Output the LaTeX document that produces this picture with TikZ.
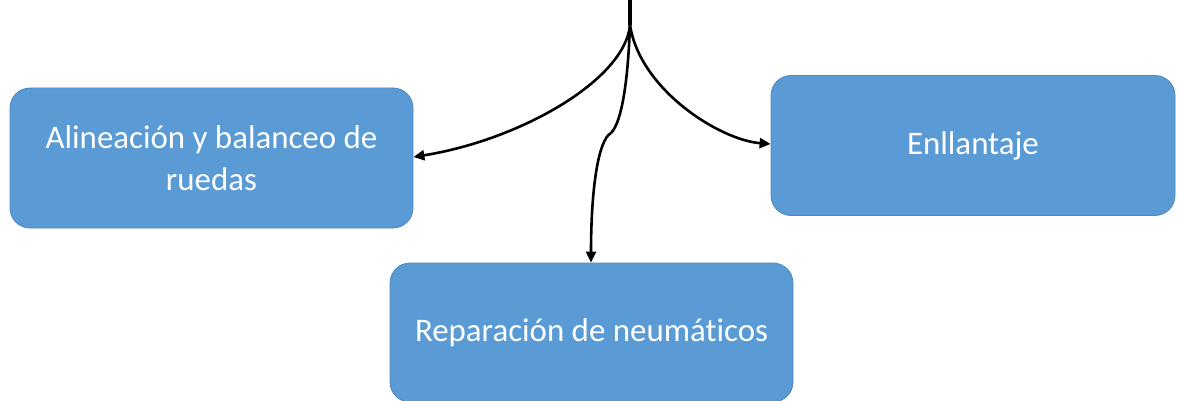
\documentclass[tikz,border=0pt]{standalone}
\usepackage{fontspec}
\setmainfont[Ligatures=NoCommon]{Carlito}
\usetikzlibrary{arrows.meta}
\definecolor{boxblue}{HTML}{5B9BD5}
\definecolor{boxedge}{HTML}{4F88BE}
\tikzset{
  box/.style={draw=boxedge, line width=0.8pt, fill=boxblue, rounded corners=20pt,
    text=white, align=center, inner sep=0pt,
    font=\fontsize{32.9}{42}\selectfont},
  conn/.style={line width=2.6pt, black, -{Triangle[length=11pt,width=10pt]}}
}
\begin{document}
\begin{tikzpicture}[x=1pt,y=-1pt]
\useasboundingbox (0,0) rectangle (1179,401);
\node[box, minimum width=403pt, minimum height=140pt] (left) at (211.5,158) {Alineación y balanceo de\\ruedas};
\node[box, minimum width=404pt, minimum height=140pt] (right) at (973,145.5) {Enllantaje};
\node[box, minimum width=403pt, minimum height=139pt] (bottom) at (591.5,332.5) {Reparación de neumáticos};
\coordinate (top) at (630,0);
\coordinate (branch) at (630,25);
\coordinate (kink) at (611,133);
\draw[line width=3.4pt] (top) -- (branch);
\draw[conn] (branch) .. controls (625,80) and (520,140) .. (left.east |- 0,157);
\draw[conn] (branch) .. controls (640,90) and (720,140) .. (right.west |- 0,144);
\draw[line width=2.6pt] (branch) .. controls (628,80) and (622,122) .. (kink);
\draw[conn] (kink) .. controls (598,140) and (591,190) .. (bottom.north -| 591,0);
\end{tikzpicture}
\end{document}
